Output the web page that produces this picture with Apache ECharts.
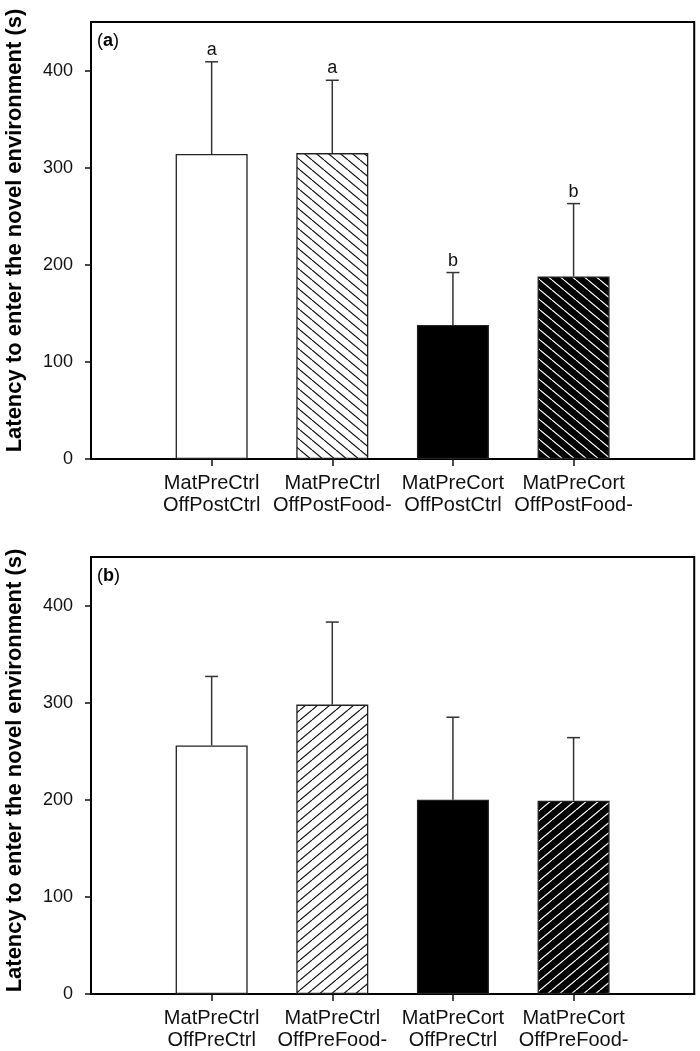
<!DOCTYPE html>
<html>
<head>
<meta charset="utf-8">
<script src="https://cdn.jsdelivr.net/npm/echarts@6/dist/echarts.min.js"></script>
<style>
  html, body { margin: 0; padding: 0; background: #fff; }
  #chart { width: 700px; height: 1051px; }
</style>
</head>
<body>
<div id="chart"></div>
<script>
// ---------------- data ----------------
const categoriesA = ['MatPreCtrl\nOffPostCtrl', 'MatPreCtrl\nOffPostFood-', 'MatPreCort\nOffPostCtrl', 'MatPreCort\nOffPostFood-'];
const categoriesB = ['MatPreCtrl\nOffPreCtrl', 'MatPreCtrl\nOffPreFood-', 'MatPreCort\nOffPreCtrl', 'MatPreCort\nOffPreFood-'];
const meansA = [314, 315, 138, 188];
const errorsA = [95, 75, 54, 75];
const lettersA = ['a', 'a', 'b', 'b'];
const meansB = [256, 298, 200, 199];
const errorsB = [71, 85, 85, 65];
const lettersB = ['', '', '', ''];
const yTicks = [0, 100, 200, 300, 400];
const yMax = 450;
const yTitle = 'Latency to enter the novel environment (s)';
const panelTags = ['a', 'b'];

// ---------------- styles ----------------
const FONT = '"Liberation Sans", Arial, sans-serif';

function hatch(bg, fg, dir) {
  const w = 12, h = 10;
  const c = document.createElement('canvas');
  c.width = w; c.height = h;
  const g = c.getContext('2d');
  g.fillStyle = bg; g.fillRect(0, 0, w, h);
  g.strokeStyle = fg; g.lineWidth = 1.2;
  for (const ox of [-w, 0, w]) {
    g.beginPath();
    if (dir === '\\') { g.moveTo(ox, 0); g.lineTo(ox + w, h); }
    else { g.moveTo(ox, h); g.lineTo(ox + w, 0); }
    g.stroke();
  }
  return { image: c, repeat: 'repeat' };
}

const fillsA = ['#ffffff', hatch('#ffffff', '#111111', '\\'), '#000000', hatch('#000000', '#ffffff', '\\')];
const fillsB = ['#ffffff', hatch('#ffffff', '#111111', '/'), '#000000', hatch('#000000', '#ffffff', '/')];

const grids = [
  { left: 91, top: 22, width: 607, height: 437 },
  { left: 91, top: 557, width: 607, height: 437 }
];

function xAxisFor(cats, gi) {
  return {
    type: 'category', gridIndex: gi,
    data: [''].concat(cats, [' ']),
    boundaryGap: false,
    axisLine: { show: true, lineStyle: { color: '#000', width: 2 } },
    axisTick: { show: true, length: 7, interval: (i) => i >= 1 && i <= cats.length, lineStyle: { color: '#111', width: 1.5 } },
    axisLabel: { interval: 0, fontFamily: FONT, fontSize: 20, lineHeight: 22, color: '#111', margin: 13 },
    splitLine: { show: false }
  };
}
function yAxisFor(gi) {
  return {
    type: 'value', gridIndex: gi, min: 0, max: yMax,
    axisLine: { show: true, lineStyle: { color: '#000', width: 2 } },
    axisTick: { show: true, length: 6, customValues: yTicks, lineStyle: { color: '#111', width: 1.5 } },
    axisLabel: { customValues: yTicks, fontFamily: FONT, fontSize: 18, color: '#111', margin: 18 },
    splitLine: { show: false }
  };
}
function barSeries(means, fills, gi) {
  return {
    type: 'bar', xAxisIndex: gi, yAxisIndex: gi, barWidth: 72,
    data: ['-'].concat(means.map((v, i) => ({ value: v, itemStyle: { color: fills[i] } })), ['-']),
    itemStyle: { borderColor: '#222', borderWidth: 1.3 },
    silent: true, animation: false
  };
}
function errSeries(means, errs, letters, gi) {
  return {
    type: 'custom', xAxisIndex: gi, yAxisIndex: gi, z: 5, silent: true, animation: false,
    data: means.map((m, i) => [i + 1, m, errs[i]]),
    encode: { x: 0, y: 1 },
    renderItem: function (params, api) {
      const x = api.value(0), m = api.value(1), e = api.value(2);
      const p0 = api.coord([x, m]);
      const p1 = api.coord([x, m + e]);
      const cap = 6.5;
      const children = [
        { type: 'line', shape: { x1: p0[0], y1: p0[1], x2: p1[0], y2: p1[1] }, style: { stroke: '#333', lineWidth: 1.5 } },
        { type: 'line', shape: { x1: p1[0] - cap, y1: p1[1], x2: p1[0] + cap, y2: p1[1] }, style: { stroke: '#333', lineWidth: 1.5 } }
      ];
      const letter = letters[params.dataIndex];
      if (letter) {
        children.push({ type: 'text', style: { text: letter, x: p1[0], y: p1[1] - 3, textAlign: 'center', textVerticalAlign: 'bottom', fontFamily: FONT, fontSize: 18, fill: '#111' } });
      }
      return { type: 'group', children: children };
    }
  };
}

const graphics = [];
grids.forEach((g, i) => {
  graphics.push({
    type: 'text', left: 0, top: 0, x: 97, y: g.top + 19, silent: true,
    style: { text: '{n|(}{b|' + panelTags[i] + '}{n|)}', verticalAlign: 'middle', rich: { n: { fontFamily: FONT, fontSize: 18, fill: '#111' }, b: { fontFamily: FONT, fontSize: 18, fontWeight: 'bold', fill: '#111' } } }
  });
});
graphics.length = 0;
grids.forEach((g, i) => {
  graphics.push({
    type: 'text', x: 97, y: g.top + 19, silent: true,
    style: { text: '{n|(}{b|' + panelTags[i] + '}{n|)}', verticalAlign: 'middle', rich: { n: { fontFamily: FONT, fontSize: 18, color: '#111' }, b: { fontFamily: FONT, fontSize: 18, fontWeight: 'bold', color: '#111' } } }
  });
  graphics.push({
    type: 'text', x: 15, y: g.top + g.height / 2 - (i === 0 ? 10 : 5), rotation: Math.PI / 2, silent: true,
    style: { text: yTitle, textAlign: 'center', textVerticalAlign: 'middle', fontFamily: FONT, fontSize: 22, fontWeight: 'bold', fill: '#000' }
  });
});

const chart = echarts.init(document.getElementById('chart'), null, { renderer: 'canvas' });
chart.setOption({
  animation: false,
  backgroundColor: '#fff',
  grid: grids.map(g => Object.assign({ show: true, borderColor: '#000', borderWidth: 2, backgroundColor: 'transparent' }, g)),
  xAxis: [xAxisFor(categoriesA, 0), xAxisFor(categoriesB, 1)],
  yAxis: [yAxisFor(0), yAxisFor(1)],
  series: [
    barSeries(meansA, fillsA, 0), errSeries(meansA, errorsA, lettersA, 0),
    barSeries(meansB, fillsB, 1), errSeries(meansB, errorsB, lettersB, 1)
  ],
  graphic: graphics
});
</script>
</body>
</html>
